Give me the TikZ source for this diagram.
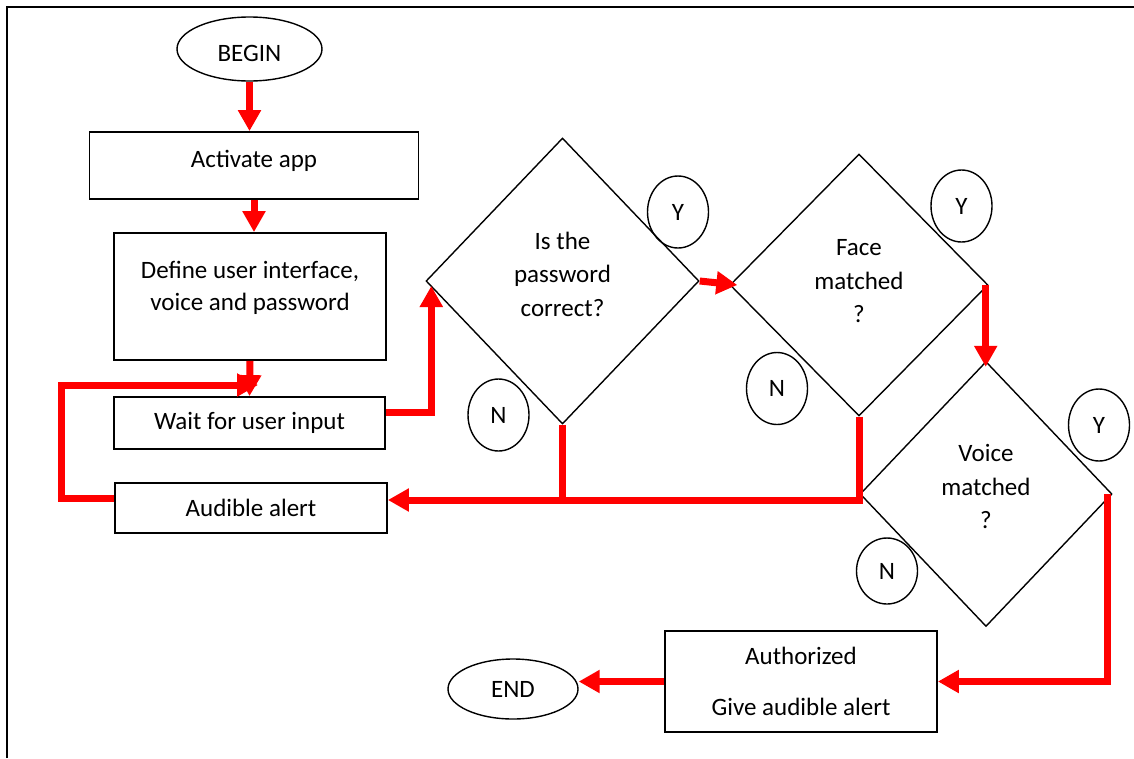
\documentclass[tikz,border=0pt]{standalone}
\usepackage{fontspec}
\setmainfont{Carlito}
\usetikzlibrary{shapes.geometric,arrows.meta,positioning,calc}
\tikzset{
    flowBox/.style={
        draw=black,
        line width=1.8pt,
        align=center,
        inner sep=0pt
    },
    termOval/.style={
        ellipse,
        draw=black,
        line width=1.4pt,
        inner sep=0pt
    },
    decisionDiamond/.style={
        diamond,
        draw=black,
        line width=1.4pt,
        align=center,
        inner sep=0pt
    },
    answerMark/.style={
        ellipse,
        draw=black,
        line width=1.4pt,
        minimum width=61pt,
        minimum height=72pt,
        inner sep=0pt
    },
    redLine/.style={draw=red, line width=7pt},
    redFlow/.style={redLine, -{Triangle[length=21pt,width=22pt]}},
}

\begin{document}
\begin{tikzpicture}[x=1pt, y=-1pt,
    font=\fontsize{25}{33.5}\selectfont
]
    \useasboundingbox (0,0) rectangle (1134,758);
    % page frame
    \draw[line width=2.3pt] (7,758) -- (7,7) -- (1134,7);

    % Left column
    \node[termOval, minimum width=145pt, minimum height=64pt, text height=25pt] (begin) at (249.5,49) {BEGIN};
    \node[flowBox, minimum width=329pt, minimum height=67pt, text depth=13pt] (act) at (254,165.5) {Activate app};
    \node[flowBox, minimum width=272pt, minimum height=127pt, text depth=21pt] (def) at (250,296.5) {Define user interface,\\[-1.5pt]voice and password};
    \node[flowBox, minimum width=271pt, minimum height=52pt] (wait) at (249.5,423) {Wait for user input};
    \node[flowBox, minimum width=272pt, minimum height=50pt] (alert) at (251,508) {Audible alert};

    % Checks
    \node[decisionDiamond, minimum width=273pt, minimum height=286pt, text depth=14pt] (pw) at (562.5,281) {Is the\\password\\correct?};
    \node[decisionDiamond, minimum width=258pt, minimum height=262pt, text depth=8pt] (face) at (859,285) {Face\\matched\\?};
    \node[decisionDiamond, minimum width=252pt, minimum height=265pt, text depth=15pt] (voice) at (986,494) {Voice\\matched\\?};

    % Answers
    \node[answerMark] (pwY) at (678,212) {Y};
    \node[answerMark] (pwN) at (498.5,415) {N};
    \node[answerMark] (faceY) at (961.5,206) {Y};
    \node[answerMark] (faceN) at (777,388.5) {N};
    \node[answerMark] (voiceY) at (1099,425) {Y};
    \node[answerMark, minimum height=66pt] (voiceN) at (887,571) {N};

    % Bottom row
    \node[flowBox, minimum width=272pt, minimum height=101pt] (auth) at (801,681.5) {Authorized\\[17pt]Give audible alert};
    \node[termOval, minimum width=130pt, minimum height=60pt] (endn) at (513,689) {END};

    % Arrows down the left
    \draw[redFlow] (begin.south) -- (begin.south |- act.north);
    \draw[redFlow] (act.south) -- (act.south |- def.north);
    \draw[redFlow] (def.south) -- (wait.north);

    % Back to waiting after the alert
    \coordinate (loopIn) at (258,385);
    \draw[redFlow] ([yshift=9.5pt]alert.west) -- ++(-53,0) |- (loopIn);

    % Into the password check
    \draw[redFlow] ([yshift=11pt]wait.east) -| ([xshift=6pt,yshift=-5pt]pw.west);

    % Y branches
    \draw[redFlow] (pw.east) -- ([xshift=8pt]face.west);
    \draw[redFlow] ([xshift=-3pt]face.east) -- ($(face.east |- voice.north)+(-3,6)$);
    \draw[redFlow] ([xshift=-5pt]voice.east) |- (auth.east);
    \draw[redFlow] (auth.west) -- (auth.west -| endn.east);

    % N branches to the alert
    \coordinate (nJoin) at ($(face.south |- alert.east)+(0,-8)$);
    \draw[redLine] (pw.south) -- ($(pw.south |- nJoin)+(0,3.5)$);
    \draw[redFlow] (face.south) |- ([yshift=8pt]alert.east);

\end{tikzpicture}
\end{document}
